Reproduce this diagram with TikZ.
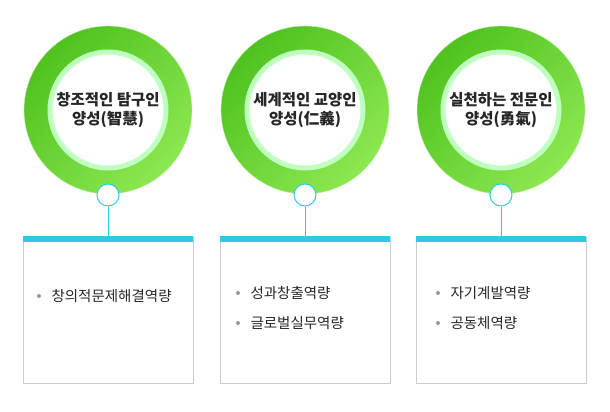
\documentclass[tikz,border=0pt]{standalone}
\usepackage{fontspec}
\setmainfont{Noto Sans CJK KR}
\begin{document}
\begin{tikzpicture}[x=1pt,y=-1pt,
  ringin/.style={circle,minimum size=116pt,inner sep=0pt,fill=white,draw=green!25!white,line width=5pt,align=center,font=\fontsize{15.5}{19}\selectfont\bfseries,text=black!85},
  knob/.style={circle,minimum size=22pt,inner sep=0pt,fill=white,line width=1pt},
  panel/.style={draw=black!20,line width=0.6pt,minimum width=170pt,minimum height=146pt,inner sep=0pt,anchor=north},
  item/.style={anchor=west,font=\fontsize{14.5}{17}\selectfont,text=black!85},
  dot/.style={circle,fill=black!40,minimum size=4pt,inner sep=0pt}]
\useasboundingbox (0,0) rectangle (610,412);
\definecolor{ringA}{HTML}{4FC21F}
\definecolor{ringB}{HTML}{8CE850}
\definecolor{cy}{HTML}{2CCBE3}
\foreach \cx/\name/\t in {108/a/{창조적인 탐구인\\양성(智慧)},305/b/{세계적인 교양인\\양성(仁義)},501/c/{실천하는 전문인\\양성(勇氣)}}{
  \node[circle,minimum size=168pt,inner sep=0pt,shading=axis,left color=ringA,right color=ringB,shading angle=45,draw=white!70!ringA,line width=0.4pt] (o\name) at (\cx,110) {};
  \node[ringin] (i\name) at (\cx,110) {\t};
  \node[panel] (p\name) at (\cx,237) {};
  \fill[cy] (\cx-85,236) rectangle (\cx+85,242);
  \coordinate (t\name) at (\cx,237);
  \node[knob,draw=cy] (k\name) at (\cx,195) {};
  \draw[draw=cy,line width=1pt] (k\name) -- (t\name);
}
\node[dot] (d1) at (39,296) {};
\node[item] (e1) at (48,296) {창의적문제해결역량};
\node[dot] (d2) at (238,293) {};
\node[item] (e2) at (247,293) {성과창출역량};
\node[dot] (d3) at (238,323) {};
\node[item] (e3) at (247,323) {글로벌실무역량};
\node[dot] (d4) at (438,293) {};
\node[item] (e4) at (447,293) {자기계발역량};
\node[dot] (d5) at (438,323) {};
\node[item] (e5) at (447,323) {공동체역량};
\end{tikzpicture}
\end{document}
